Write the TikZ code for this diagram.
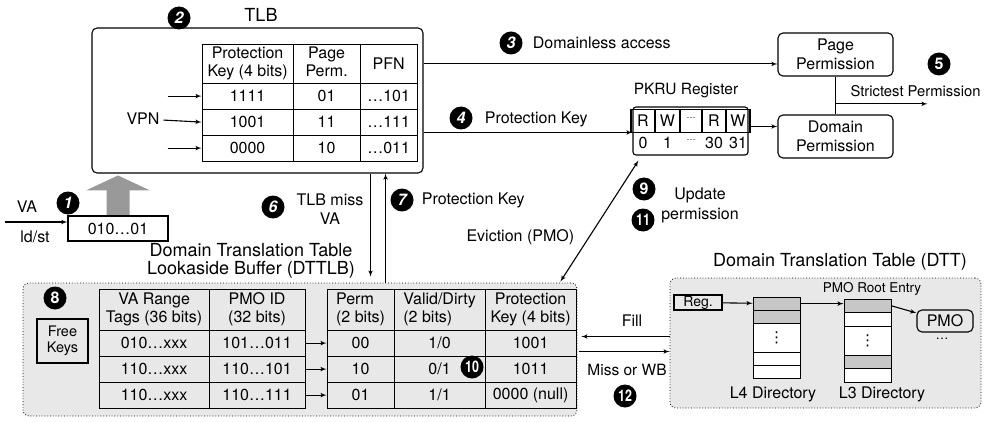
\documentclass[tikz,border=0pt]{standalone}
\usepackage{fontspec}
\setmainfont{TeX Gyre Heros}
\newfontfamily\dirsymfont{DejaVu Sans}
\usepackage{graphicx}
\usetikzlibrary{arrows,calc,positioning,matrix}

\newcommand{\twolines}[2]{\begin{tabular}{@{}c@{}}#1\\#2\end{tabular}}
\newcommand{\twoleft}[2]{\begin{tabular}{@{}l@{}}#1\\#2\end{tabular}}
\newcommand{\pkdots}{\raisebox{.35em}{\fontsize{9}{9}\selectfont …}}
\newcommand{\narrow}[1]{\scalebox{.78}[1]{#1}}
\newcommand{\dirdots}{{\dirsymfont\fontsize{15}{15}\selectfont ⋮}}

\begin{document}
\begin{tikzpicture}[x=1pt, y=-1pt, line width=1.1pt, >=latex', font=\fontsize{16}{18.5}\selectfont]
        \tikzstyle{block} = [draw, rounded corners=5pt, align=center]
        \tikzstyle{num} = [circle, fill=black, text=white, inner sep=0pt, minimum size=23, font=\fontsize{16}{16}\selectfont\bfseries]
        \tikzstyle{numit} = [num, font=\fontsize{16}{16}\selectfont\bfseries\itshape]
        \tikzstyle{pool} = [draw, dotted, line width=0.8pt, rounded corners=6pt, fill=black!9]
        \tikzstyle{celltab} = [matrix of nodes, anchor=north west, inner sep=0pt, column sep=-\pgflinewidth, row sep=-\pgflinewidth, nodes={draw, anchor=center, inner sep=1pt, minimum height=26}]

        \useasboundingbox (0,0) rectangle (984,422);

        \node [pool, minimum width=554, minimum height=133] (dttlb) at (300,349.5) {};
        \node [pool, minimum width=311, minimum height=130] (dtt) at (825.5,343) {};

        \node [block, minimum width=331, minimum height=145] (tlb) at (257.5,100.5) {};
        \node [font=\fontsize{18}{20}\selectfont] (tlblabel) at (261,15) {TLB};
        \node [numit] (n2) at (179,18) {2};
        \matrix (tlbtab) [celltab, row 1/.style={nodes={minimum height=39}}, column 1/.style={nodes={minimum width=91}}, column 2/.style={nodes={minimum width=67}}, column 3/.style={nodes={minimum width=57}}] at (201,43) {
            \twolines{Protection}{Key (4 bits)} & \twolines{Page}{Perm.} & PFN \\
            1111 & 01 & …101 \\
            1001 & 11 & …111 \\
            0000 & 10 & …011 \\
        };
        \node (vpn) at (143,119) {VPN};
        \coordinate (vpnone) at ($(tlbtab-2-1.west)+(-34,0)$);
        \coordinate (vpnthree) at ($(tlbtab-4-1.west)+(-34,0)$);
        \draw [->] (vpnone) -- (tlbtab-2-1.west);
        \draw [->] (vpn) -- (tlbtab-3-1.west);
        \draw [->] (vpnthree) -- (tlbtab-4-1.west);

        \node [draw, minimum width=100, minimum height=25] (vabox) at (118,228.5) {010…01};
        \fill [black!40] (vabox.north) ++(-11.5,-0.6) -- ++(0,-24.4) -- ++(-20.5,0) -- ++(32,-15) -- ++(32,15) -- ++(-20.5,0) -- ++(0,24.4) -- cycle;
        \coordinate (vain) at (5,222);
        \draw [->] (vain) -- (vain -| vabox.west);
        \node (va) at (27,207) {VA};
        \node (ldst) at (35,237) {ld/st};
        \node [numit] (n1) at (68,203) {1};

        \node [block, minimum width=115, minimum height=43] (pageperm) at (835.5,54.5) {Page\\Permission};
        \node [block, minimum width=115, minimum height=43] (domperm) at (835.5,136.5) {Domain\\Permission};
        \draw (pageperm) -- (domperm);
        \coordinate (strict) at ($(pageperm.south)!0.72!(domperm.north)$);
        \coordinate (strictout) at ($(strict)+(92,0)$);
        \draw [->] (strict) -- (strictout);
        \node [font=\fontsize{14.8}{16}\selectfont] (strictlbl) at (915.5,91) {Strictest Permission};
        \node [num] (n5) at (939,64) {5};

        \node [draw, rounded corners=3pt, minimum width=115, minimum height=48] (pkru) at (690.5,131) {};
        \matrix (pkrutab) [celltab, anchor=center, nodes={inner sep=0pt, minimum height=23}, row 2/.style={nodes={draw=none, minimum height=21}}, column 1/.style={nodes={minimum width=24}}, column 2/.style={nodes={minimum width=25}}, column 3/.style={nodes={minimum width=22}}, column 4/.style={nodes={minimum width=24}}, column 5/.style={nodes={minimum width=24}}] at (pkru.center) {
            R & W & \pkdots & R & W \\
            0 & 1 & \pkdots & 30 & 31 \\
        };
        \node [font=\fontsize{15.5}{17}\selectfont] (pkrulbl) at (686,91) {PKRU Register};
        \coordinate (pkruout) at ($(pkru.east)+(0,-4.5)$);
        \draw [->] (pkruout) -- (pkruout -| domperm.west);

        \coordinate (dlout) at ($(tlb.north east)+(0,36.5)$);
        \draw [->] (dlout) -- (dlout -| pageperm.west);
        \node [numit] (n3) at (511,43) {3};
        \node [anchor=west] (dllbl) at (529,43) {Domainless access};
        \coordinate (pkin) at ($(tlb.east |- pkru)+(0,1.5)$);
        \draw [->] (pkin) -- (pkin -| pkru.west);
        \node [numit] (n4) at (461,118) {4};
        \node [anchor=west] (pklbl) at (481,119) {Protection Key};

        \node [font=\fontsize{18}{18.5}\selectfont, align=center] (dttlblbl) at (251,261) {Domain Translation Table\\Lookaside Buffer (DTTLB)};
        \node [num] (n8) at (55,298) {8};
        \node [draw, minimum width=51, minimum height=44, inner sep=1pt, align=center, font=\fontsize{14.5}{16.5}\selectfont] (freekeys) at (62.5,341) {Free\\Keys};
        \matrix (dtag) [celltab, row 1/.style={nodes={minimum height=41}}, column 1/.style={nodes={minimum width=110}}, column 2/.style={nodes={minimum width=96}}] at (98,288) {
            \twolines{VA Range}{Tags (36 bits)} & \twolines{PMO ID}{(32 bits)} \\
            010…xxx & 101…011 \\
            110…xxx & 110…101 \\
            110…xxx & 110…111 \\
        };
        \matrix (dperm) [celltab, row 1/.style={nodes={minimum height=41}}, column 1/.style={nodes={minimum width=67}}, column 2/.style={nodes={minimum width=91}}, column 3/.style={nodes={minimum width=91}}] at (326,288) {
            \twoleft{Perm}{(2 bits)} & \twoleft{Valid/Dirty}{(2 bits)} & \twolines{Protection}{Key (4 bits)} \\
            00 & 1/0 & 1001 \\
            10 & 0/1 & 1011 \\
            01 & 1/1 & 0000 (null) \\
        };
        \draw [->] (dtag-2-2.east) -- (dperm-2-1.west);
        \draw [->] (dtag-3-2.east) -- (dperm-3-1.west);
        \draw [->] (dtag-4-2.east) -- (dperm-4-1.west);
        \node [num] (n10) at (472,367) {\narrow{10}};

        \coordinate (missdown) at ($(tlb.south east)+(-53,0)$);
        \coordinate (missend) at ($(missdown |- dttlb.north)+(0,-6)$);
        \draw [->] (missdown) -- (missend);
        \coordinate (pkup) at ($(tlb.south east)+(-38,0)$);
        \draw [->] (pkup |- dttlb.north) -- (pkup);
        \node [numit] (n6) at (273,207) {6};
        \node [align=center] (misslbl) at (330,209) {TLB miss\\VA};
        \node [numit] (n7) at (402,200) {7};
        \node [anchor=west] (pkdownlbl) at (418,200) {Protection Key};

        \coordinate (evtop) at ($(pkru.south west)+(6,5)$);
        \coordinate (evbot) at ($(dttlb.north east)+(-17,-1)$);
        \draw [<->] (evbot) -- (evtop);
        \node [anchor=east] (evlbl) at (578,237) {Eviction (PMO)};
        \node [num] (n9) at (644,189) {9};
        \node [num] (n11) at (643,220) {\narrow{11}};
        \node [align=center, font=\fontsize{16}{20}\selectfont] (updlbl) at (700,205) {Update\\permission};

        \node [font=\fontsize{18}{20}\selectfont] (dttlbl) at (840,262) {Domain Translation Table (DTT)};
        \node [draw, minimum width=48, minimum height=15, inner sep=0.5pt, font=\fontsize{14}{15}\selectfont] (reg) at (698,302.5) {Reg.};
        \matrix (lfour) [celltab, nodes={fill=white, minimum width=47, minimum height=13, inner sep=0pt}, row 1/.style={nodes={fill=black!22}}, row 2/.style={nodes={fill=black!22}}, row 3/.style={nodes={minimum height=29}}] at (752,296) {
            {} \\
            {} \\
            \dirdots \\
            {} \\
            {} \\
        };
        \matrix (lthree) [celltab, nodes={fill=white, minimum width=47, minimum height=13.5, inner sep=0pt}, row 1/.style={nodes={fill=black!22}}, row 4/.style={nodes={fill=black!22}}, row 3/.style={nodes={minimum height=29}}] at (843,298) {
            {} \\
            {} \\
            \dirdots \\
            {} \\
            {} \\
        };
        \draw [->] (reg) -- (lfour-1-1);
        \draw [->] (lfour-1-1.east) -- (lfour-1-1.east -| lthree-1-1.west);
        \node [block, minimum width=56, minimum height=22, inner sep=1pt] (pmo) at (945,321) {PMO};
        \coordinate (pmoin) at ($(pmo.west)+(0,-8)$);
        \draw [->] (lthree-1-1.east) -- (pmoin);
        \node [inner sep=0pt, font=\fontsize{13}{13}\selectfont] (pmodots) at (942,339) {…};
        \node [font=\fontsize{13.5}{15}\selectfont] (rootlbl) at (872,289) {PMO Root Entry};
        \node (lfourlbl) at (773,394) {L4 Directory};
        \node (lthreelbl) at (882,394) {L3 Directory};

        \coordinate (fillin) at ($(dtt.west)+(0,-6.5)$);
        \coordinate (fillend) at ($(fillin -| dttlb.east)+(4,0)$);
        \draw [->] (fillin) -- (fillend);
        \coordinate (missin) at ($(dtt.west)+(0,8.5)$);
        \coordinate (missstart) at ($(missin -| dttlb.east)+(2,0)$);
        \draw [->] (missstart) -- (missin);
        \node (filllbl) at (632,321) {Fill};
        \node [font=\fontsize{15.5}{17}\selectfont] (misswblbl) at (627,370) {Miss or WB};
        \node [num] (n12) at (625,396) {\narrow{12}};
    \end{tikzpicture}
\end{document}
